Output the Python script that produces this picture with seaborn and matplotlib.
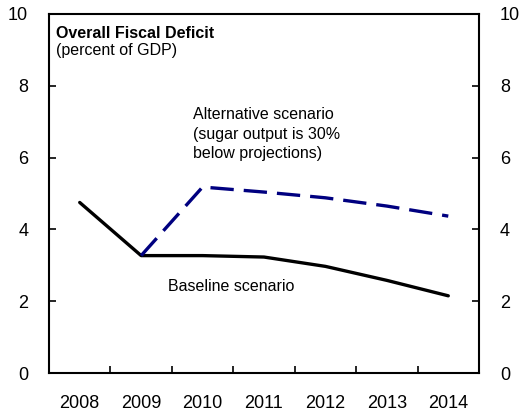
import matplotlib
matplotlib.use("Agg")
import matplotlib.pyplot as plt
import seaborn as sns
import pandas as pd

years = [2008, 2009, 2010, 2011, 2012, 2013, 2014]
baseline = [4.75, 3.27, 3.27, 3.23, 2.97, 2.58, 2.15]
alt_years = [2009, 2010, 2011, 2012, 2013, 2014]
alternative = [3.27, 5.18, 5.04, 4.88, 4.65, 4.37]
y_ticks = [0, 2, 4, 6, 8, 10]

sns.set_style("white")
plt.rcParams["font.family"] = ["Liberation Sans", "DejaVu Sans"]
plt.rcParams["text.color"] = "black"
plt.rcParams["xtick.color"] = "black"
plt.rcParams["ytick.color"] = "black"

fig = plt.figure(figsize=(5.29, 4.18), dpi=100)
ax = fig.add_axes([49 / 529, 45 / 418, 430 / 529, 359 / 418])

base_df = pd.DataFrame({"year": years, "value": baseline})
alt_df = pd.DataFrame({"year": alt_years, "value": alternative})

sns.lineplot(data=base_df, x="year", y="value", ax=ax, color="black",
             linewidth=2.4)
sns.lineplot(data=alt_df, x="year", y="value", ax=ax, color="#000080",
             linewidth=2.4)
ax.lines[-1].set_dashes([7, 3])

ax.set_xlim(2007.5, 2014.5)
ax.set_ylim(0, 10)
ax.set_yticks(y_ticks)
ax.set_xticks(years)
ax.set_xticklabels([str(y) for y in years])
ax.set_xticks([y + 0.5 for y in years[:-1]], minor=True)
ax.set_xlabel("")
ax.set_ylabel("")

for s in ax.spines.values():
    s.set_visible(True)
    s.set_color("black")
    s.set_linewidth(1.5)

ax.tick_params(axis="x", which="major", length=0, pad=16, labelsize=13)
ax.tick_params(axis="x", which="minor", direction="in", length=5, width=1.2,
               bottom=True, top=False)
ax.tick_params(axis="y", direction="in", length=5, width=1.2, left=True,
               right=True, labelleft=True, labelright=True, pad=15,
               labelsize=13)

ax.text(2007.61, 9.33, "Overall Fiscal Deficit", fontsize=11.5,
        fontweight="bold", ha="left", va="baseline")
ax.text(2007.61, 8.86, "(percent of GDP)", fontsize=11.5, ha="left",
        va="baseline")
for i, line in enumerate(["Alternative scenario", "(sugar output is 30%",
                          "below projections)"]):
    ax.text(2009.84, 7.07 - i * 0.54, line, fontsize=11.5, ha="left",
            va="baseline")
ax.text(2009.44, 2.28, "Baseline scenario", fontsize=11.5, ha="left",
        va="baseline")

fig.savefig("out.png", dpi=100)
